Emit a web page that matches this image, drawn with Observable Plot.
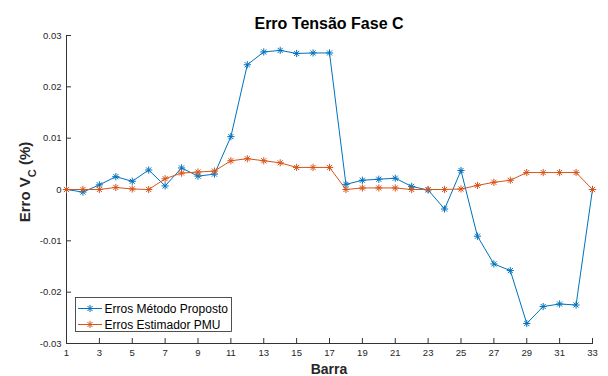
<!DOCTYPE html>
<html><head><meta charset="utf-8">
<script src="https://cdn.jsdelivr.net/npm/d3@7"></script>
<script src="https://cdn.jsdelivr.net/npm/@observablehq/plot@0.6"></script>
<style>body{margin:0;background:#fff} svg{display:block}</style>
</head><body><div id="chart"></div>
<script>
const bars = [1,2,3,4,5,6,7,8,9,10,11,12,13,14,15,16,17,18,19,20,21,22,23,24,25,26,27,28,29,30,31,32,33];
const metodoProposto = [0.0000,-0.0005,0.0009,0.0025,0.0016,0.0038,0.0007,0.0042,0.0026,0.0030,0.0103,0.0243,0.0268,0.0271,0.0265,0.0266,0.0266,0.0010,0.0018,0.0020,0.0022,0.0006,-0.0001,-0.0038,0.0037,-0.0091,-0.0145,-0.0158,-0.0261,-0.0228,-0.0223,-0.0225,0.0000];
const estimadorPMU = [0.0000,0.0000,0.0000,0.0004,0.0001,0.0000,0.0021,0.0032,0.0034,0.0036,0.0056,0.0060,0.0056,0.0052,0.0043,0.0043,0.0043,0.0000,0.0003,0.0003,0.0003,0.0000,0.0000,0.0000,0.0001,0.0008,0.0014,0.0018,0.0033,0.0033,0.0033,0.0033,0.0000];
const seriesNames = ["Erros Método Proposto","Erros Estimador PMU"];
const seriesColors = ["#0072BD","#D95319"];
const xTicks = [1,3,5,7,9,11,13,15,17,19,21,23,25,27,29,31,33];
const yTicks = [-0.03,-0.02,-0.01,0,0.01,0.02,0.03];
const title = "Erro Tensão Fase C";
const xLabel = "Barra";

const seriesValues = [metodoProposto, estimadorPMU];
const data = seriesNames.flatMap((s, i) => bars.map((b, j) => ({bar: b, value: seriesValues[i][j], series: s})));

const star = {
  draw(ctx, size) {
    const r = Math.sqrt(size / Math.PI);
    const d = r * Math.SQRT1_2;
    ctx.moveTo(-r, 0); ctx.lineTo(r, 0);
    ctx.moveTo(0, -r); ctx.lineTo(0, r);
    ctx.moveTo(-d, -d); ctx.lineTo(d, d);
    ctx.moveTo(-d, d); ctx.lineTo(d, -d);
  }
};

const FONT = "'Liberation Sans', Arial, Helvetica, sans-serif";
const axisColor = "#333333";

const chart = Plot.plot({
  width: 608, height: 376,
  marginLeft: 66, marginRight: 16, marginTop: 35, marginBottom: 33,
  style: {fontFamily: FONT, fontSize: "9.5px", color: "#262626", background: "#fff"},
  x: {domain: [1, 33], label: null},
  y: {domain: [-0.03, 0.03], label: null},
  color: {domain: seriesNames, range: seriesColors},
  marks: [
    Plot.frame({anchor: "left", stroke: axisColor}),
    Plot.frame({anchor: "bottom", stroke: axisColor}),
    Plot.axisX({ticks: xTicks, tickSize: -5, tickPadding: 11, label: null, stroke: axisColor, tickFormat: d => String(d)}),
    Plot.axisY({ticks: yTicks, tickSize: -5, tickPadding: 10, label: null, stroke: axisColor, tickFormat: d => d === 0 ? "0" : String(d)}),
    Plot.line(data, {x: "bar", y: "value", stroke: "series", strokeWidth: 1}),
    Plot.dot(data, {x: "bar", y: "value", stroke: "series", symbol: star, r: 3.6, strokeWidth: 1})
  ]
});
document.getElementById("chart").appendChild(chart);

const svg = d3.select(chart);
svg.append("text")
  .attr("x", 329).attr("y", 28.5)
  .attr("text-anchor", "middle")
  .style("font", `bold 16px ${FONT}`).attr("fill", "#000")
  .text(title);
svg.append("text")
  .attr("x", 329).attr("y", 374)
  .attr("text-anchor", "middle")
  .style("font", `bold 14px ${FONT}`).attr("fill", "#262626")
  .text(xLabel);
const yl = svg.append("text")
  .attr("transform", "translate(30,182) rotate(-90)")
  .attr("text-anchor", "middle")
  .style("font", `bold 15px ${FONT}`).attr("fill", "#262626");
yl.append("tspan").text("Erro V");
yl.append("tspan").attr("dy", 6).style("font-size", "11px").text("C");
yl.append("tspan").attr("dy", -6).text(" (%)");

// legend
const lg = svg.append("g").attr("text-anchor", "start");
lg.append("rect").attr("x", 75.5).attr("y", 297.5).attr("width", 156).attr("height", 34)
  .attr("fill", "#fff").attr("stroke", "#262626").attr("stroke-width", 0.8);
seriesNames.forEach((name, i) => {
  const y = 308.5 + i * 16;
  lg.append("line").attr("x1", 78).attr("x2", 102).attr("y1", y).attr("y2", y)
    .style("stroke", seriesColors[i]).style("stroke-width", "1px");
  const p = d3.path();
  star.draw(p, Math.PI * 3.6 * 3.6);
  lg.append("path").attr("d", p.toString()).attr("transform", `translate(90,${y})`)
    .style("stroke", seriesColors[i]).style("fill", "none");
  lg.append("text").attr("x", 104.5).attr("y", y).attr("dy", "0.35em")
    .attr("text-anchor", "start")
    .style("font", `12px ${FONT}`).attr("fill", "#000").text(name);
});
</script>
</body></html>
